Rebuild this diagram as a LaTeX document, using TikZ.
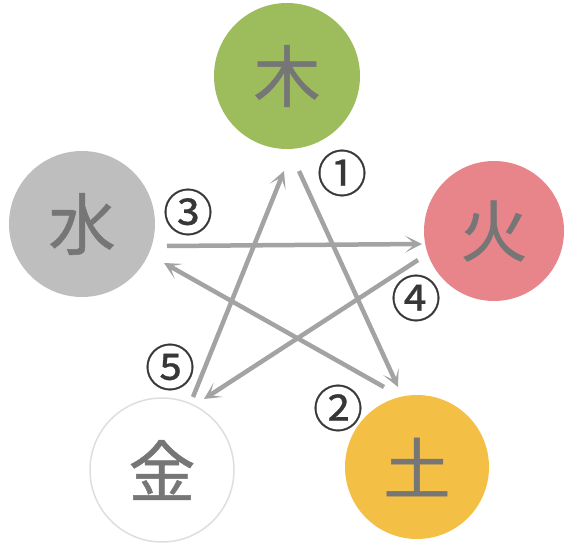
\documentclass[tikz,border=0pt]{standalone}
\usepackage{fontspec}
\usepackage{tikz}
\usetikzlibrary{arrows.meta}
\newfontfamily\jpfont[FakeBold=0.8]{Noto Sans CJK JP}
\newfontfamily\numfont[FakeBold=0.6]{Noto Sans CJK JP}
\definecolor{wood}{RGB}{157,188,92}
\definecolor{fire}{RGB}{231,133,139}
\definecolor{earth}{RGB}{243,191,68}
\definecolor{water}{RGB}{190,190,190}
\definecolor{metalring}{RGB}{222,222,222}
\definecolor{glyphgray}{RGB}{118,118,118}
\definecolor{arrowgray}{RGB}{163,163,163}
\definecolor{numgray}{RGB}{55,55,55}
\tikzset{
  element/.style={circle, minimum size=146pt, inner sep=0pt,
    font=\jpfont\fontsize{67}{67}\selectfont, text=glyphgray},
  num/.style={font=\numfont\fontsize{50}{50}\selectfont, text=numgray, inner sep=0pt},
  arrow/.style={-{Stealth[length=17pt, width=17pt, inset=10pt]},
    line width=4.5pt, color=arrowgray},
}

\begin{document}
\begin{tikzpicture}[x=1pt, y=-1pt]
  \useasboundingbox (0,0) rectangle (565,548);
  \node[element, fill=wood] (mu) at (287,76) {木};
  \node[element, fill=fire, minimum size=140pt] (huo) at (494,231) {火};
  \node[element, fill=earth, minimum size=144pt] (tu) at (417,467) {土};
  \node[element, fill=white, draw=metalring, line width=1.5pt, minimum size=144pt] (jin) at (162,470) {金};
  \node[element, fill=water] (shui) at (82,224) {水};

  \coordinate (mu-out) at (299,171);
  \coordinate (tu-in) at (398,387);
  \coordinate (tu-out) at (384,387);
  \coordinate (shui-in) at (164,263);
  \coordinate (shui-out) at (167,246);
  \coordinate (huo-in) at (422,244);
  \coordinate (huo-out) at (418,260);
  \coordinate (jin-in) at (204,399);
  \coordinate (jin-out) at (193,397);
  \coordinate (mu-in) at (284,171);

  \draw[arrow] (mu-out) -- (tu-in);
  \draw[arrow] (tu-out) -- (shui-in);
  \draw[arrow] (shui-out) -- (huo-in);
  \draw[arrow] (huo-out) -- (jin-in);
  \draw[arrow] (jin-out) -- (mu-in);

  \node[num] (n1) at (342,173) {①};
  \node[num] (n2) at (338,408) {②};
  \node[num] (n3) at (188,212) {③};
  \node[num] (n4) at (416,298) {④};
  \node[num] (n5) at (170,367) {⑤};
\end{tikzpicture}
\end{document}
